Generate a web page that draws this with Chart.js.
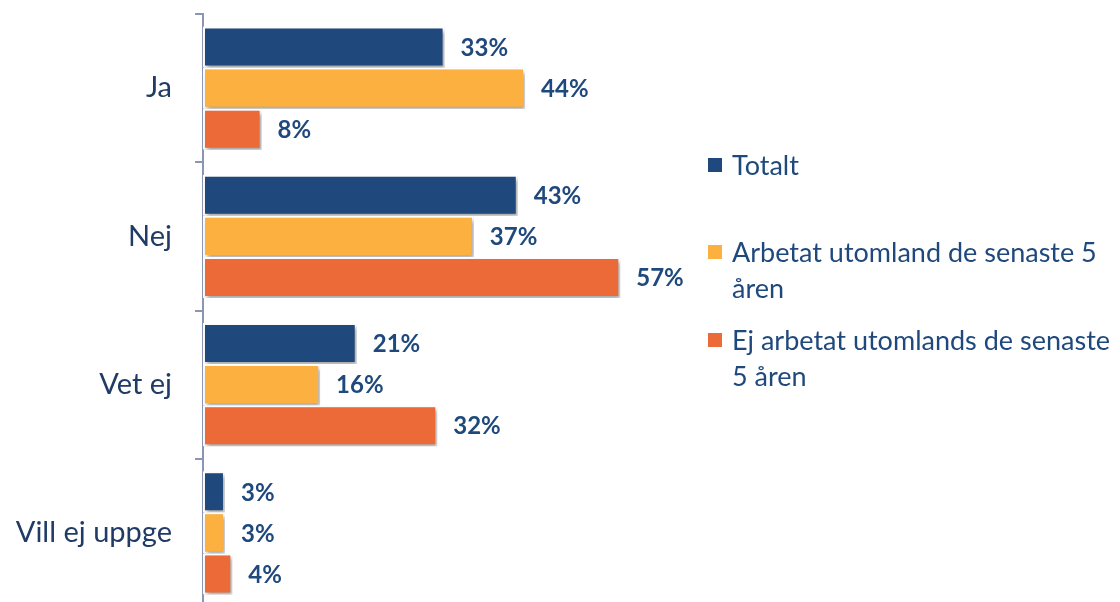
<!DOCTYPE html>
<html><head><meta charset="utf-8">
<script src="https://cdn.jsdelivr.net/npm/chart.js@4/dist/chart.umd.min.js"></script>
<style>
html,body{margin:0;padding:0;background:#fff;overflow:hidden;width:1120px;height:602px;}
#wrap{position:absolute;left:0;top:0;width:1120px;height:610px;}
.leg{position:absolute;left:708px;font-family:Lato,sans-serif;font-size:27px;line-height:36px;color:#1f497d;}
.leg .sw{position:absolute;left:0;width:14px;height:14px;top:11px;}
.leg .tx{margin-left:24px;white-space:nowrap;}
</style></head><body>
<div id="wrap"><canvas id="c" width="1120" height="610"></canvas></div>
<div id="legend"></div>
<script>
const categories = ["Ja", "Nej", "Vet ej", "Vill ej uppge"];
const seriesNames = ["Totalt", "Arbetat utomland de senaste 5 åren", "Ej arbetat utomlands de senaste 5 åren"];
const legendLines = [["Totalt"], ["Arbetat utomland de senaste 5", "åren"], ["Ej arbetat utomlands de senaste", "5 åren"]];
const totalt = [33, 43, 21, 3];
const arbetat = [44, 37, 16, 3];
const ejArbetat = [8, 57, 32, 4];
const colors = ["#1f497d", "#fbb040", "#ec6a37"];
const legendTops = [147, 234, 322];

const labelPlugin = {
  id: 'valueLabels',
  afterDatasetsDraw(chart) {
    const ctx = chart.ctx;
    ctx.save();
    ctx.font = 'bold 24px Lato, sans-serif';
    ctx.fillStyle = '#1f497d';
    ctx.textBaseline = 'middle';
    ctx.textAlign = 'left';
    chart.data.datasets.forEach((ds, i) => {
      chart.getDatasetMeta(i).data.forEach((bar, j) => {
        ctx.fillText(ds.data[j] + '%', bar.x + 16, bar.y + 1);
      });
    });
    ctx.restore();
  }
};
const shadowPlugin = {
  id: 'barShadow',
  beforeDatasetsDraw(chart) {
    const ctx = chart.ctx;
    ctx.save();
    ctx.shadowColor = 'rgba(0,0,0,0.35)';
    ctx.shadowBlur = 4;
    ctx.shadowOffsetX = 2;
    ctx.shadowOffsetY = 3;
  },
  afterDatasetsDraw(chart) { chart.ctx.restore(); }
};

const series = [totalt, arbetat, ejArbetat];
new Chart(document.getElementById('c'), {
  type: 'bar',
  data: {
    labels: categories,
    datasets: series.map((d, i) => ({
      label: seriesNames[i], data: d, backgroundColor: colors[i],
      borderColor: '#ffffff', borderWidth: 2, borderSkipped: false
    }))
  },
  options: {
    indexAxis: 'y', responsive: false, animation: false,
    categoryPercentage: 0.83, barPercentage: 1,
    layout: { padding: { top: 14, bottom: 3, left: 0, right: 185 } },
    plugins: { legend: { display: false }, tooltip: { enabled: false } },
    scales: {
      x: { display: false, min: 0, max: 100 },
      y: {
        afterFit(s) { s.width = 203; s.paddingTop = 0; s.paddingBottom = 0; },
        border: { display: true, color: '#8c96b4', width: 2 },
        grid: { display: true, drawOnChartArea: false, drawTicks: true, tickLength: 8, color: '#8c96b4', lineWidth: 2 },
        ticks: { padding: 23, color: '#1f3b66', font: { family: 'Lato, sans-serif', size: 29 } }
      }
    }
  },
  plugins: [shadowPlugin, labelPlugin]
});

const lg = document.getElementById('legend');
legendLines.forEach((lines, i) => {
  const d = document.createElement('div');
  d.className = 'leg';
  d.style.top = legendTops[i] + 'px';
  d.innerHTML = '<span class="sw" style="background:' + colors[i] + '"></span>' +
    lines.map(l => '<div class="tx">' + l + '</div>').join('');
  lg.appendChild(d);
});
</script>
</body></html>
